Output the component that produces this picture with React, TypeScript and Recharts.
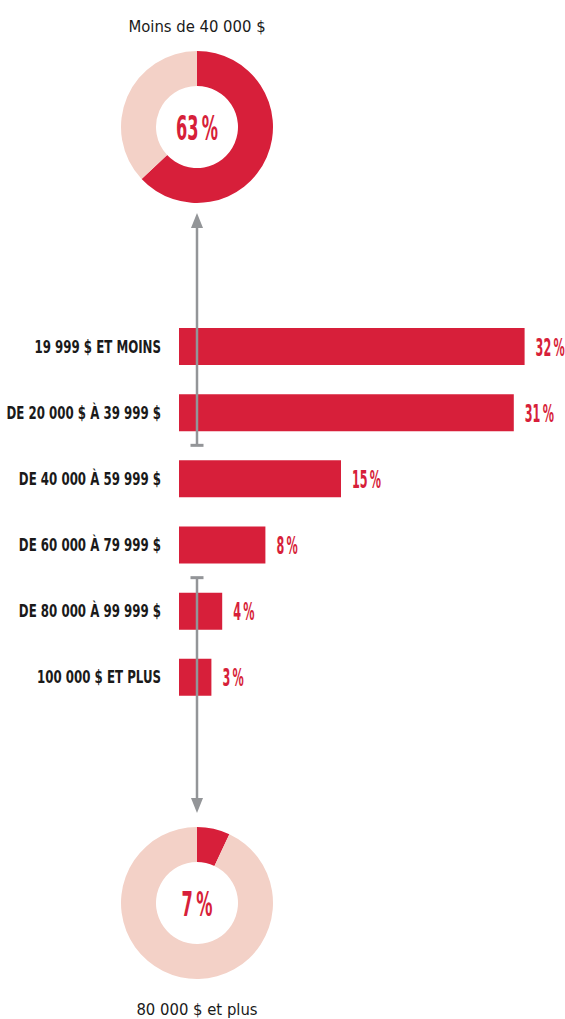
import { PieChart, Pie, Cell, BarChart, Bar, XAxis, YAxis, LabelList } from 'recharts'

const categories = [
  '19 999 $ ET MOINS',
  'DE 20 000 $ À 39 999 $',
  'DE 40 000 À 59 999 $',
  'DE 60 000 À 79 999 $',
  'DE 80 000 À 99 999 $',
  '100 000 $ ET PLUS',
]
const shares = [32, 31, 15, 8, 4, 3]

const topTitle = 'Moins de 40 000 $'
const topShare = 63
const bottomTitle = '80 000 $ et plus'
const bottomShare = 7

const RED = '#d71f3a'
const PINK = '#f3d1c7'
const GREY = '#939598'
const INK = '#1a1a1a'
// no narrow face installed, so DejaVu Condensed squeezed horizontally
const FONT = "'DejaVu Sans Condensed', 'DejaVu Sans', sans-serif"

// layout
const CX = 197
const TOP_CY = 127
const BOTTOM_CY = 903
const OUTER = 76
const INNER = 41
const BAR_TOP = 313
const BAR_H = 397
const BAND = BAR_H / categories.length

const barData = categories.map((name, i) => ({ name, value: shares[i] }))

function Donut({ share, cy }: { share: number; cy: number }) {
  const data = [
    { name: 'share', value: share },
    { name: 'rest', value: 100 - share },
  ]
  const size = OUTER * 2 + 4
  return (
    <div style={{ position: 'absolute', left: CX - size / 2, top: cy - size / 2, width: size, height: size }}>
      <PieChart width={size} height={size} margin={{ top: 0, right: 0, bottom: 0, left: 0 }}>
        <Pie
          data={data}
          dataKey="value"
          innerRadius={INNER}
          outerRadius={OUTER}
          startAngle={90}
          endAngle={-270}
          stroke="none"
          isAnimationActive={false}
        >
          <Cell fill={RED} />
          <Cell fill={PINK} />
        </Pie>
      </PieChart>
      <svg width={size} height={size} style={{ position: 'absolute', left: 0, top: 0, pointerEvents: 'none' }}>
        <g transform={`translate(${size / 2},${size / 2 + 13}) scale(0.53,1)`}>
          <text x={0} y={0} textAnchor="middle" fontFamily={FONT} fontWeight={700} fontSize={34} fill={RED}>
            {share}
            {'\u2009'}%
          </text>
        </g>
      </svg>
    </div>
  )
}

function CategoryTick(props: any) {
  const { x, y, payload } = props
  return (
    <g transform={`translate(${x},${y}) scale(0.73,1)`}>
      <text
        x={0}
        y={0}
        dy={6.5}
        textAnchor="end"
        fontFamily={FONT}
        fontWeight={700}
        fontSize={18}
        fill={INK}
      >
        {payload.value}
      </text>
    </g>
  )
}

function ValueLabel(props: any) {
  const { x, y, width, height, value } = props
  return (
    <g transform={`translate(${x + width + 11},${y + height / 2}) scale(0.52,1)`}>
      <text x={0} y={0} dy={9} textAnchor="start" fontFamily={FONT} fontWeight={700} fontSize={24} fill={RED}>
        {value}
        {'\u2009'}%
      </text>
    </g>
  )
}

function Arrow({ tip, end, up }: { tip: number; end: number; up: boolean }) {
  const head = 15
  const dir = up ? 1 : -1
  return (
    <g>
      <line x1={CX} x2={CX} y1={tip + dir * head * 0.8} y2={end} stroke={GREY} strokeWidth={2.5} />
      <rect x={CX - 6.5} y={end - 1.5} width={13} height={3} fill={GREY} />
      <polygon points={`${CX},${tip} ${CX - 6},${tip + dir * head} ${CX + 6},${tip + dir * head}`} fill={GREY} />
    </g>
  )
}

export default function App() {
  return (
    <div style={{ position: 'absolute', left: 0, top: 0, width: 565, height: 1019, background: '#fff' }}>
      <Donut share={topShare} cy={TOP_CY} />

      <div style={{ position: 'absolute', left: 0, top: BAR_TOP }}>
        <BarChart
          width={565}
          height={BAR_H}
          data={barData}
          layout="vertical"
          margin={{ top: 0, right: 8, bottom: 0, left: 0 }}
        >
          <XAxis type="number" domain={[0, 35]} hide />
          <YAxis
            type="category"
            dataKey="name"
            width={179}
            axisLine={false}
            tickLine={false}
            tickSize={0}
            tickMargin={18}
            interval={0}
            tick={<CategoryTick />}
          />
          <Bar dataKey="value" fill={RED} barSize={37} isAnimationActive={false}>
            <LabelList dataKey="value" content={<ValueLabel />} />
          </Bar>
        </BarChart>
      </div>

      <Donut share={bottomShare} cy={BOTTOM_CY} />

      <svg width={565} height={1019} style={{ position: 'absolute', left: 0, top: 0, pointerEvents: 'none' }}>
        <Arrow tip={TOP_CY + OUTER + 10} end={BAR_TOP + BAND * 2} up />
        <Arrow tip={BOTTOM_CY - OUTER - 14} end={BAR_TOP + BAND * 4} up={false} />
        <text x={CX} y={32.3} textAnchor="middle" fontFamily={FONT} fontSize={16.5} fill={INK}>
          {topTitle}
        </text>
        <text x={CX} y={1014.5} textAnchor="middle" fontFamily={FONT} fontSize={16.5} fill={INK}>
          {bottomTitle}
        </text>
      </svg>
    </div>
  )
}
